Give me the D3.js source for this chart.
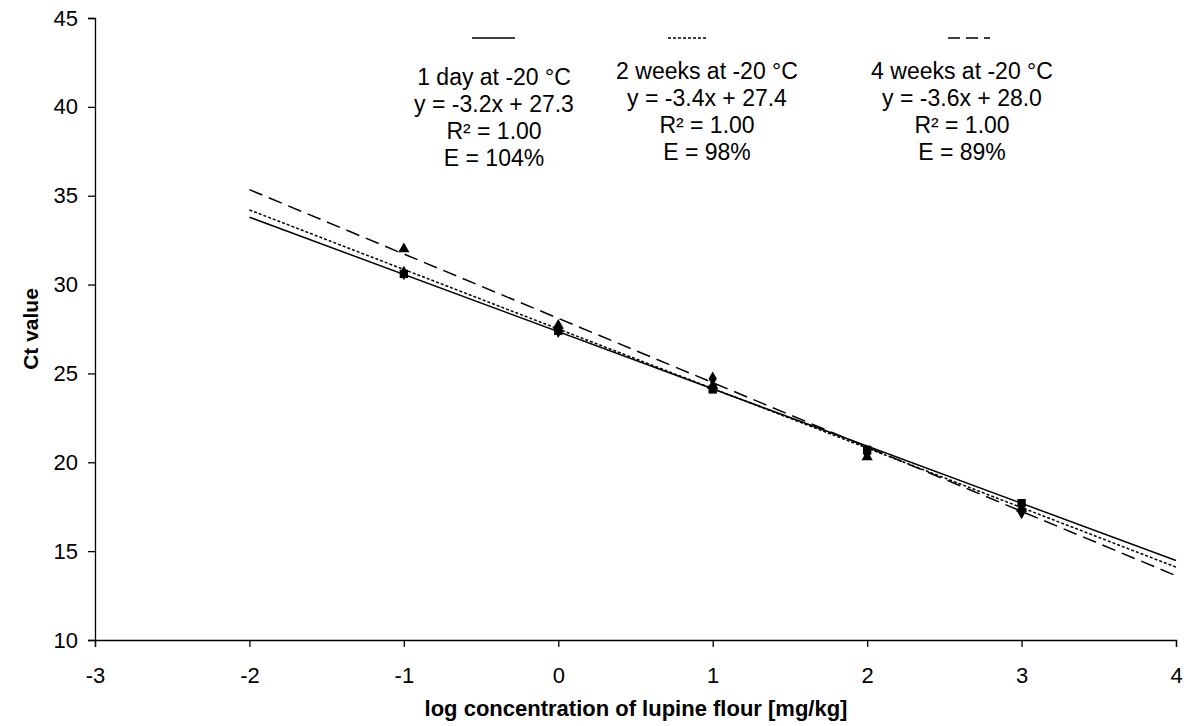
<!DOCTYPE html>
<html>
<head>
<meta charset="utf-8">
<script src="https://cdn.jsdelivr.net/npm/d3@7"></script>
<style>
  body { margin: 0; background: #fff; }
  text { font-family: "Liberation Sans", Arial, sans-serif; fill: #000; }
</style>
</head>
<body>
<script>
const xTicks = [-3, -2, -1, 0, 1, 2, 3, 4];
const yTicks = [10, 15, 20, 25, 30, 35, 40, 45];
const concentrations = [-1, 0, 1, 2, 3];

const seriesNames = ["1 day at -20 °C", "2 weeks at -20 °C", "4 weeks at -20 °C"];
const ctOneDay = [30.6, 27.4, 24.1, 20.7, 17.7];
const ctTwoWeeks = [30.65, 27.4, 24.7, 20.5, 17.2];
const ctFourWeeks = [32.0, 27.7, 24.3, 20.3, 17.4];
const slopes = [-3.22, -3.35, -3.62];
const intercepts = [27.35, 27.5, 28.1];
const equations = ["y = -3.2x + 27.3", "y = -3.4x + 27.4", "y = -3.6x + 28.0"];
const rSquared = ["R² = 1.00", "R² = 1.00", "R² = 1.00"];
const efficiency = ["E = 104%", "E = 98%", "E = 89%"];
const lineRange = [-2, 4];

const width = 1187, height = 726;
const marginTop = 18, marginBottom = 86, marginLeft = 95, marginRight = 11;

const x = d3.scaleLinear()
    .domain([-3, 4])
    .range([marginLeft, width - marginRight]);

const y = d3.scaleLinear()
    .domain([10, 45])
    .range([height - marginBottom, marginTop]);

const svg = d3.select("body").append("svg")
    .attr("width", width)
    .attr("height", height);

// axes
const gx = svg.append("g")
    .attr("transform", `translate(0,${height - marginBottom})`)
    .call(d3.axisBottom(x).tickValues(xTicks).tickSize(7).tickPadding(20).tickFormat(d => String(d)));
gx.select(".domain").attr("stroke", "#000").attr("stroke-width", 1.3);
gx.selectAll("line").attr("stroke", "#000").attr("stroke-width", 1.3);
gx.selectAll("text").attr("font-size", 22).attr("font-family", "Liberation Sans, Arial, sans-serif");

const gy = svg.append("g")
    .attr("transform", `translate(${marginLeft},0)`)
    .call(d3.axisLeft(y).tickValues(yTicks).tickSize(7).tickPadding(10).tickFormat(d => String(d)));
gy.select(".domain").attr("stroke", "#000").attr("stroke-width", 1.3);
gy.selectAll("line").attr("stroke", "#000").attr("stroke-width", 1.3);
gy.selectAll("text").attr("font-size", 22).attr("font-family", "Liberation Sans, Arial, sans-serif");

svg.append("text")
    .attr("x", 636)
    .attr("y", 716)
    .attr("text-anchor", "middle")
    .attr("font-size", 22)
    .attr("font-weight", "bold")
    .text("log concentration of lupine flour [mg/kg]");

svg.append("text")
    .attr("transform", `translate(38,${(marginTop + height - marginBottom) / 2}) rotate(-90)`)
    .attr("text-anchor", "middle")
    .attr("font-size", 21)
    .attr("font-weight", "bold")
    .text("Ct value");

// regression lines
const dashes = [null, "3,2", "14,7"];
slopes.forEach((m, i) => {
  svg.append("line")
      .attr("x1", x(lineRange[0]))
      .attr("y1", y(m * lineRange[0] + intercepts[i]))
      .attr("x2", x(lineRange[1]))
      .attr("y2", y(m * lineRange[1] + intercepts[i]))
      .attr("stroke", "#000")
      .attr("stroke-width", 1.5)
      .attr("stroke-dasharray", dashes[i]);
});

// markers
const symbols = [d3.symbolSquare, d3.symbolDiamond, d3.symbolTriangle];
const sizes = [70, 60, 55];
[ctOneDay, ctTwoWeeks, ctFourWeeks].forEach((vals, i) => {
  svg.append("g")
      .selectAll("path")
      .data(vals)
      .join("path")
      .attr("transform", (d, j) => `translate(${x(concentrations[j])},${y(d)})`)
      .attr("d", d3.symbol(symbols[i], sizes[i]))
      .attr("fill", "#000");
});

// legend
const legendX = [494, 707, 962];
const legendTop = [77, 71, 71];
const legendLine = [[472, 515], [668, 707], [948, 990]];
const legendDashes = [null, "3,2", "12,6"];
seriesNames.forEach((name, i) => {
  svg.append("line")
      .attr("x1", legendLine[i][0])
      .attr("x2", legendLine[i][1])
      .attr("y1", 38)
      .attr("y2", 38)
      .attr("stroke", "#000")
      .attr("stroke-width", 1.5)
      .attr("stroke-dasharray", legendDashes[i]);
  const rows = [name, equations[i], rSquared[i], efficiency[i]];
  svg.append("g")
      .selectAll("text")
      .data(rows)
      .join("text")
      .attr("x", legendX[i])
      .attr("y", (d, j) => legendTop[i] + j * 27)
      .attr("dy", "0.35em")
      .attr("text-anchor", "middle")
      .attr("font-size", 23)
      .text(d => d);
});
</script>
</body>
</html>
